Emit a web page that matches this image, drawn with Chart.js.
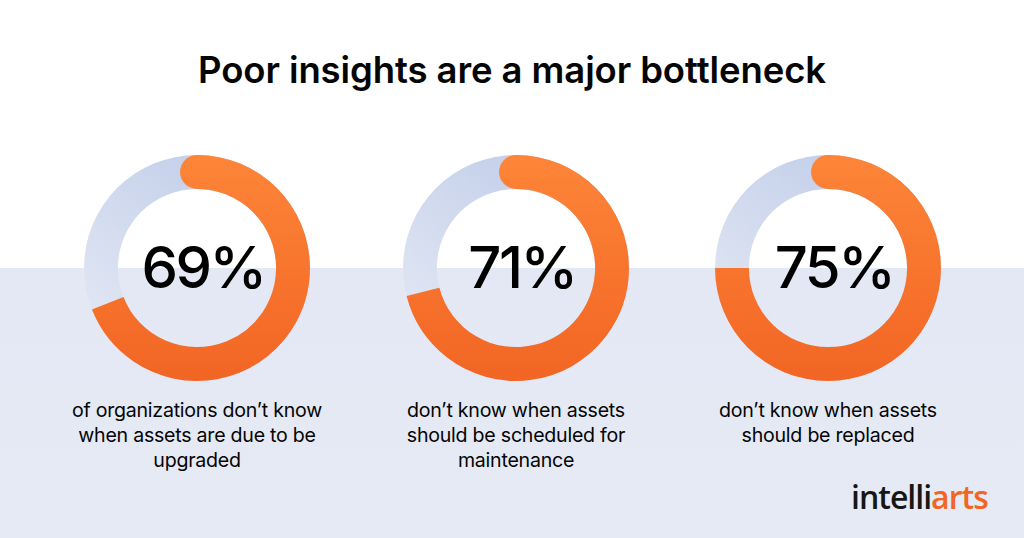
<!DOCTYPE html>
<html>
<head>
<meta charset="utf-8">
<script src="https://cdn.jsdelivr.net/npm/chart.js@4.4.1/dist/chart.umd.min.js"></script>
<style>
  html, body { margin: 0; padding: 0; }
  body {
    width: 1024px; height: 538px; position: relative; overflow: hidden;
    background: linear-gradient(#ffffff 0, #ffffff 268px, #e3e8f4 268px, #e6eaf4 538px);
    font-family: Inter, "Noto Sans", sans-serif; color: #050505;
  }
  h1 {
    position: absolute; left: 0; top: 48px; width: 1024px; margin: 0;
    text-align: center; font-size: 36.5px; font-weight: 600; letter-spacing: -0.1px;
  }
  .donut { position: absolute; width: 226px; height: 226px; }
  .pct {
    position: absolute; width: 226px; text-align: center; font-size: 58px;
    font-weight: 500; letter-spacing: -2.5px; line-height: 1; color: #000;
  }
  .cap {
    position: absolute; width: 320px; text-align: center; font-size: 19.6px;
    line-height: 25px; font-weight: 400; letter-spacing: -0.25px;
  }
  .logo {
    position: absolute; left: 851px; top: 475px; font-family: "Open Sans", sans-serif;
    font-size: 32px; font-weight: 600; letter-spacing: -1px; color: #161616;
  }
  .logo span { color: #f26522; }
</style>
</head>
<body>
<h1>Poor insights are a major bottleneck</h1>
<div class="logo">intelli<span>arts</span></div>
<script>
// data
const values = [69, 71, 75];
const captions = [
  ["of organizations don’t know", "when assets are due to be", "upgraded"],
  ["don’t know when assets", "should be scheduled for", "maintenance"],
  ["don’t know when assets", "should be replaced"]
];
const centersX = [197, 516, 828];
const centerY = 268;

// grey track under the ring + rounded cap at the start of the orange arc
const ringPlugin = {
  id: 'ring',
  beforeDatasetsDraw(chart) {
    const arc = chart.getDatasetMeta(0).data[0];
    if (!arc) return;
    const { x, y, innerRadius, outerRadius } = arc;
    const c = chart.ctx;
    const g = c.createLinearGradient(x + outerRadius * 0.1, y - outerRadius, x - outerRadius, y + outerRadius * 0.5);
    g.addColorStop(0, '#c3cfea');
    g.addColorStop(1, '#e2e7f3');
    c.save();
    c.beginPath();
    c.arc(x, y, outerRadius, 0, Math.PI * 2);
    c.arc(x, y, innerRadius, Math.PI * 2, 0, true);
    c.closePath();
    c.fillStyle = g;
    c.fill();
    c.restore();
  },
  afterDatasetsDraw(chart) {
    const arc = chart.getDatasetMeta(0).data[0];
    if (!arc) return;
    const { x, y, innerRadius, outerRadius, startAngle } = arc;
    const r = (innerRadius + outerRadius) / 2;
    const c = chart.ctx;
    c.save();
    c.beginPath();
    c.arc(x + r * Math.cos(startAngle), y + r * Math.sin(startAngle), (outerRadius - innerRadius) / 2, 0, Math.PI * 2);
    c.fillStyle = orange(chart);
    c.fill();
    c.restore();
  }
};

function orange(chart) {
  const area = chart.chartArea;
  if (!area) return '#f87a2e';
  const g = chart.ctx.createLinearGradient(0, area.top, 0, area.bottom);
  g.addColorStop(0, '#fd8538');
  g.addColorStop(1, '#f26524');
  return g;
}

values.forEach((v, i) => {
  const box = document.createElement('div');
  box.className = 'donut';
  box.style.left = (centersX[i] - 113) + 'px';
  box.style.top = (centerY - 113) + 'px';
  const cv = document.createElement('canvas');
  box.appendChild(cv);
  document.body.appendChild(box);

  new Chart(cv, {
    type: 'doughnut',
    data: {
      labels: ['yes', 'no'],
      datasets: [{
        data: [v, 100 - v],
        backgroundColor: ctx => ctx.dataIndex === 0 ? orange(ctx.chart) : 'rgba(0,0,0,0)',
        borderWidth: 0,
        hoverOffset: 0,
        offset: 0
      }]
    },
    options: {
      responsive: true,
      maintainAspectRatio: false,
      animation: false,
      events: [],
      cutout: '70%',
      rotation: 0,
      layout: { padding: 0 },
      plugins: { legend: { display: false }, tooltip: { enabled: false } }
    },
    plugins: [ringPlugin]
  });

  const pct = document.createElement('div');
  pct.className = 'pct';
  pct.textContent = v + '%';
  pct.style.left = (centersX[i] - 113 + 6) + 'px';
  pct.style.top = (centerY - 30) + 'px';
  document.body.appendChild(pct);

  const cap = document.createElement('div');
  cap.className = 'cap';
  cap.innerHTML = captions[i].join('<br>');
  cap.style.left = (centersX[i] - 160) + 'px';
  cap.style.top = '398px';
  document.body.appendChild(cap);
});
</script>
</body>
</html>
